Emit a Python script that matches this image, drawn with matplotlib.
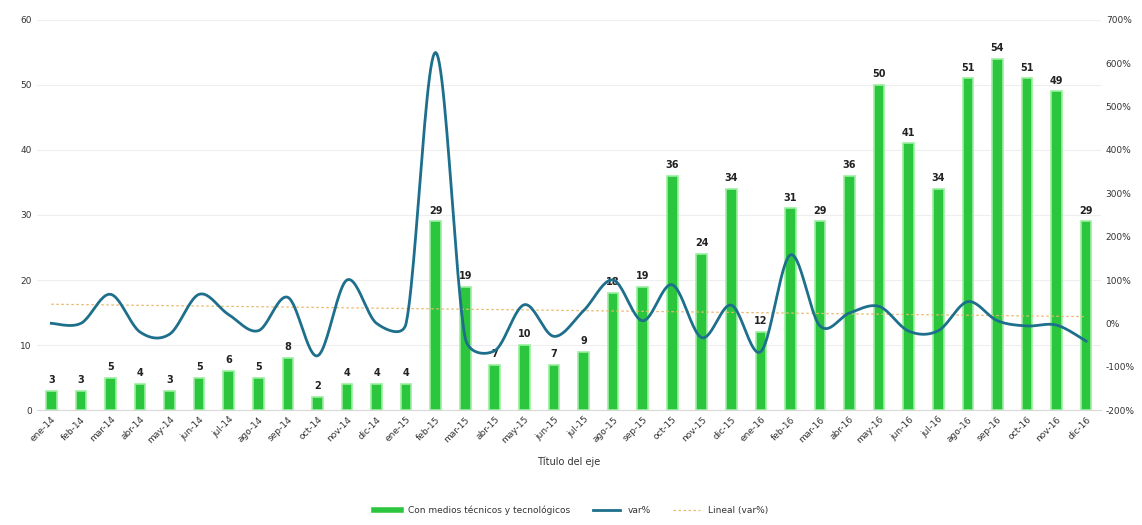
import numpy as np
import matplotlib
matplotlib.use("Agg")
import matplotlib.pyplot as plt
from matplotlib.ticker import FuncFormatter
from matplotlib.lines import Line2D

months = ["ene-14","feb-14","mar-14","abr-14","may-14","jun-14","jul-14","ago-14","sep-14","oct-14","nov-14","dic-14",
          "ene-15","feb-15","mar-15","abr-15","may-15","jun-15","jul-15","ago-15","sep-15","oct-15","nov-15","dic-15",
          "ene-16","feb-16","mar-16","abr-16","may-16","jun-16","jul-16","ago-16","sep-16","oct-16","nov-16","dic-16"]
counts = [3,3,5,4,3,5,6,5,8,2,4,4,4,29,19,7,10,7,9,18,19,36,24,34,12,31,29,36,50,41,34,51,54,51,49,29]
var_pct = [0,0,67,-20,-25,67,20,-17,60,-75,100,0,0,625,-34,-63,43,-30,29,100,6,89,-33,42,-65,158,-6,24,39,-18,-17,50,6,-6,-4,-41]

GREEN = "#2cc63e"
TEAL = "#1d6f8c"
TREND = "#e8b96a"

fig = plt.figure(figsize=(11.42, 5.25), dpi=100)
ax = fig.add_axes([0.032, 0.219, 0.932, 0.743])
ax2 = ax.twinx()

x = np.arange(len(months))
ax.bar(x, counts, width=0.36, color=GREEN, edgecolor="#9bf0a0", linewidth=1.2, zorder=2)
for xi, v in zip(x, counts):
    ax.text(xi, v + 0.9, str(v), ha="center", va="bottom", fontsize=7, fontweight="bold", color="#222222")

ax.set_ylim(0, 60)
ax.set_xlim(-0.5, len(months) - 0.5)
ax.set_yticks(range(0, 61, 10))
ax.grid(axis="y", color="#eeeeee", linewidth=0.8, zorder=0)
ax.set_axisbelow(True)
ax.set_xticks(x)
ax.set_xticklabels(months, rotation=45, ha="right", rotation_mode="anchor", fontsize=6.5, color="#333333")
ax.tick_params(axis="both", length=0, labelsize=6.5, colors="#333333")
ax.set_xlabel("Título del eje", fontsize=7, color="#333333", labelpad=8)
for s in ["top", "right", "left"]:
    ax.spines[s].set_visible(False)
ax.spines["bottom"].set_color("#d9d9d9")

ax2.set_ylim(-200, 700)

# Excel-like smoothing, computed in screen space (control offsets capped at half segment length)
def smooth(axis, xs, ys, n=24):
    pts = axis.transData.transform(np.column_stack([xs, ys]).astype(float))
    N = len(pts)
    out = []
    f = 1.0 / 6.0
    for i in range(N - 1):
        p0 = pts[max(i-1, 0)]; p1 = pts[i]; p2 = pts[i+1]; p3 = pts[min(i+2, N-1)]
        d12 = np.linalg.norm(p2 - p1)
        d02 = np.linalg.norm(p2 - p0)
        d13 = np.linalg.norm(p3 - p1)
        f1 = f if d02 * f <= d12 / 2 or d02 == 0 else d12 / (2 * d02)
        f2 = f if d13 * f <= d12 / 2 or d13 == 0 else d12 / (2 * d13)
        c1 = p1 + f1 * (p2 - p0)
        c2 = p2 - f2 * (p3 - p1)
        t = np.linspace(0, 1, n, endpoint=(i == N-2))[:, None]
        b = (1-t)**3*p1 + 3*(1-t)**2*t*c1 + 3*(1-t)*t**2*c2 + t**3*p2
        out.append(b)
    out = np.vstack(out)
    return axis.transData.inverted().transform(out)

fig.canvas.draw()
sm = smooth(ax2, x, var_pct)
ax2.plot(sm[:, 0], sm[:, 1], color=TEAL, linewidth=2, zorder=3)
coef = np.polyfit(x, var_pct, 1)
ax2.plot([x[0], x[-1]], np.polyval(coef, [x[0], x[-1]]), color=TREND, linewidth=0.9, linestyle=(0, (2, 2)), zorder=1)
ax2.set_ylim(-200, 700)
ax2.set_xlim(-0.5, len(months) - 0.5)
ax2.set_yticks(range(-200, 701, 100))
ax2.yaxis.set_major_formatter(FuncFormatter(lambda v, p: f"{int(v)}%"))
ax2.tick_params(axis="y", length=0, labelsize=6.5, colors="#333333")
for s in ["top", "right", "left", "bottom"]:
    ax2.spines[s].set_visible(False)

handles = [Line2D([0], [0], color=GREEN, linewidth=4),
           Line2D([0], [0], color=TEAL, linewidth=2),
           Line2D([0], [0], color=TREND, linewidth=0.9, linestyle=(0, (2, 2)))]
labels = ["Con medios técnicos y tecnológicos", "var%", "Lineal (var%)"]
fig.legend(handles, labels, loc="center", bbox_to_anchor=(0.5, 0.028), ncol=3, frameon=False,
           fontsize=6.5, handlelength=3, columnspacing=2.5, labelcolor="#333333")

fig.savefig("out.png", dpi=100)
